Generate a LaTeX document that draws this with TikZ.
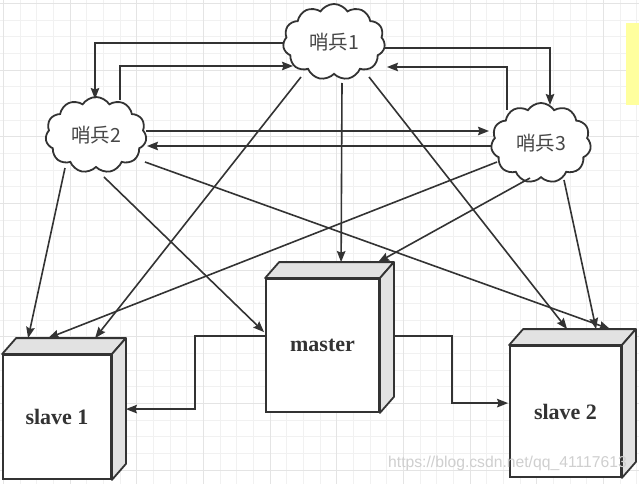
\documentclass[tikz,border=0pt]{standalone}
\usepackage{fontspec}
\setmainfont{Liberation Serif}
\newfontfamily\cjk{Noto Sans CJK SC}
\newfontfamily\wmfont{Liberation Sans}
\usetikzlibrary{shapes.symbols,arrows.meta,calc}
\definecolor{ink}{HTML}{333333}
\definecolor{facegray}{HTML}{E2E2E2}
\definecolor{gridminor}{HTML}{F1F1F1}
\definecolor{gridmajor}{HTML}{E4E4E4}
\definecolor{paleyellow}{HTML}{FFFF9E}
\definecolor{wmgray}{HTML}{CFCFCF}
\newcommand\drawcube[5]{%
  \node[boxfront, minimum width=#3, minimum height=#4] (#1) at #2 {#5};
  \filldraw[boxface] (#1.north west) -- ++(14,-16) -- ([shift={(14,-16)}]#1.north east) -- (#1.north east) -- cycle;
  \filldraw[boxface] (#1.north east) -- ++(14,-16) -- ([shift={(14,-16)}]#1.south east) -- (#1.south east) -- cycle;
}
\begin{document}
\begin{tikzpicture}[x=1pt,y=-1pt,
  conn/.style={draw=ink, line width=1.6pt, line join=miter,
    -{Stealth[length=11pt,width=8.5pt,inset=1.5pt]}},
  cloudnode/.style={cloud, cloud puffs=11, cloud puff arc=115, cloud ignores aspect,
    draw=ink, line width=1.8pt, fill=white, inner sep=0pt,
    font=\cjk\fontsize{19.5}{19.5}\selectfont, text=ink!90},
  boxfront/.style={rectangle, draw=ink, fill=white, line width=1.8pt, inner sep=0pt,
    font=\bfseries\fontsize{22}{22}\selectfont, text=ink},
  boxface/.style={draw=ink, fill=facegray, line width=1.8pt, line join=round}]
\useasboundingbox (0,0) rectangle (639,484);
\fill[white] (0,0) rectangle (639,484);
% grid
\foreach \i in {0,...,38} {
  \draw[gridminor, line width=0.8pt] ({3.333+16.667*\i},0) -- ++(0,484);
}
\foreach \i in {0,...,29} {
  \draw[gridminor, line width=0.8pt] (0,{3.333+16.667*\i}) -- ++(639,0);
}
\foreach \i in {0,...,9} {
  \draw[gridmajor, line width=0.8pt] ({3.333+66.667*\i},0) -- ++(0,484);
}
\foreach \i in {0,...,7} {
  \draw[gridmajor, line width=0.8pt] (0,{3.333+66.667*\i}) -- ++(639,0);
}
\fill[paleyellow] (626,23) rectangle (639,105);
% boxes
\drawcube{m}{(322.5,345.5)}{113pt}{133pt}{master}
\drawcube{s1}{(57,417)}{108pt}{124pt}{slave 1}
\drawcube{s2}{(565.5,411.5)}{111pt}{131pt}{slave 2}
% clouds
\node[cloudnode, minimum width=102pt, minimum height=76pt] (c1) at (334,42) {哨兵1};
\node[cloudnode, minimum width=101pt, minimum height=76pt] (c2) at (96,135) {哨兵2};
\node[cloudnode, minimum width=100pt, minimum height=80pt] (c3) at (541,143) {哨兵3};
% cloud to cloud
\draw[conn] ([shift={(-51,1)}]c1.center) -| ([shift={(-1,-36)}]c2.center);
\draw[conn] ([shift={(24,-35)}]c2.center) |- ([shift={(-41,24)}]c1.center);
\draw[conn] ([shift={(50,6)}]c1.center) -| ([shift={(9,-38)}]c3.center);
\draw[conn] ([shift={(-34,-33)}]c3.center) |- ([shift={(53,25)}]c1.center);
\draw[conn] ([shift={(50,-4)}]c2.center) -- ([shift={(-52,-12)}]c3.center);
\draw[conn] ([shift={(-50,3)}]c3.center) -- ([shift={(51,11)}]c2.center);
% cloud 1 to boxes
\draw[conn] ([shift={(-33,35)}]c1.center) -- ([shift={(93,-16)}]s1.north west);
\draw[conn] ([shift={(8,41)}]c1.center) -- ([shift={(76,-16)}]m.north west);
\draw[conn] ([shift={(35,35)}]c1.center) -- ([shift={(58,-16)}]s2.north west);
% cloud 2 to boxes
\draw[conn] ([shift={(-31,33)}]c2.center) -- ([shift={(26,-16)}]s1.north west);
\draw[conn] ([shift={(8,42)}]c2.center) -- ([shift={(-1,54)}]m.north west);
\draw[conn] ([shift={(49,27)}]c2.center) -- ([shift={(101,-16)}]s2.north west);
% cloud 3 to boxes
\draw[conn] ([shift={(-44,19)}]c3.center) -- ([shift={(46,-16)}]s1.north west);
\draw[conn] ([shift={(-11,35)}]c3.center) -- ([shift={(113,-16)}]m.north west);
\draw[conn] ([shift={(23,37)}]c3.center) -- ([shift={(87,-16)}]s2.north west);
% master to slaves
\draw[conn] ([shift={(0,58)}]m.north west) -- ++(-70,0) |- ([shift={(14,55)}]s1.north east);
\draw[conn] ([shift={(14,58)}]m.north east) -- ++(58,0) |- ([shift={(-1,58)}]s2.north west);
% watermark
\node[text=wmgray, font=\wmfont\fontsize{15.7}{15.7}\selectfont, inner sep=0pt] (wm) at (507.5,463) {https://blog.csdn.net/qq\_41117613};
\end{tikzpicture}
\end{document}
